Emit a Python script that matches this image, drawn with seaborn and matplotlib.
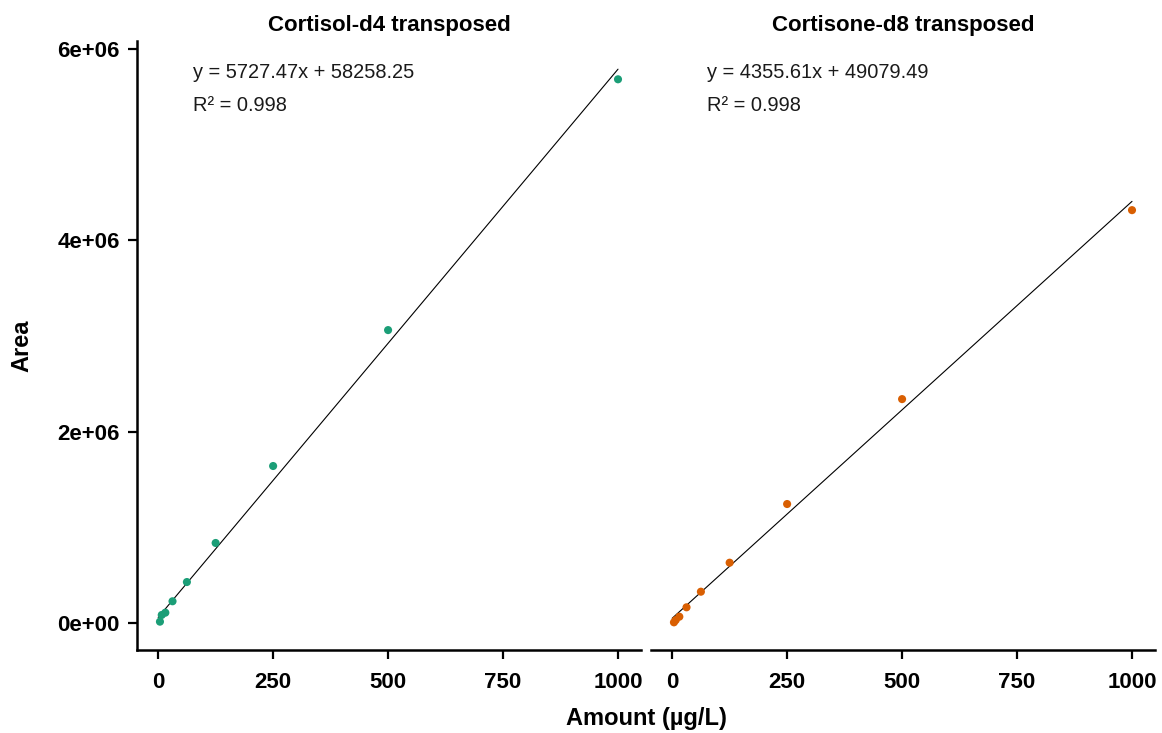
import numpy as np
import pandas as pd
import matplotlib
matplotlib.use("Agg")
import matplotlib.pyplot as plt
import seaborn as sns

# ---- data ----
amount = [3.90625, 7.8125, 15.625, 31.25, 62.5, 125, 250, 500, 1000]
cortisol_area = [14000, 84000, 108000, 227000, 428000, 836000, 1640000, 3060000, 5680000]
cortisone_area = [7000, 31000, 66000, 164000, 327000, 630000, 1243000, 2339000, 4313000]
panel_titles = ["Cortisol-d4 transposed", "Cortisone-d8 transposed"]
slopes = [5727.47, 4355.61]
intercepts = [58258.25, 49079.49]
r2_values = [0.998, 0.998]
colors = ["#1B9E77", "#D95F02"]
x_ticks = [0, 250, 500, 750, 1000]
y_ticks = [0, 2e6, 4e6, 6e6]
y_tick_labels = ["0e+00", "2e+06", "4e+06", "6e+06"]

sns.set_theme(style="ticks")
plt.rcParams["font.family"] = ["Liberation Sans", "DejaVu Sans"]
plt.rcParams["text.color"] = "black"

W, H = 1162, 733
fig = plt.figure(figsize=(W / 100, H / 100), dpi=100)
bottom = 1 - 650 / H
height = (650 - 41) / H
ax1 = fig.add_axes([137 / W, bottom, 504 / W, height])
ax2 = fig.add_axes([651 / W, bottom, 504 / W, height])

areas = [cortisol_area, cortisone_area]
for i, ax in enumerate([ax1, ax2]):
    df = pd.DataFrame({"Amount": amount, "Area": areas[i]})
    line_x = np.array([0.0, max(amount)])
    line_df = pd.DataFrame({"x": line_x, "y": slopes[i] * line_x + intercepts[i]})
    sns.lineplot(data=line_df, x="x", y="y", ax=ax, color="black", linewidth=0.8)
    sns.scatterplot(data=df, x="Amount", y="Area", ax=ax, color=colors[i],
                    s=34, edgecolor="none", zorder=3)
    ax.set_xlim(-46, 1050)
    ax.set_ylim(-2.82e5, 6.08e6)
    ax.set_xticks(x_ticks)
    ax.set_xticklabels([str(t) for t in x_ticks], fontweight="bold", fontsize=16)
    ax.set_xlabel("")
    ax.set_ylabel("")
    ax.set_title(panel_titles[i], fontweight="bold", fontsize=16, pad=7, color="black")
    ax.tick_params(axis="both", length=6.5, width=1.6, color="black",
                   labelcolor="black")
    ax.tick_params(axis="x", pad=9)
    ax.tick_params(axis="y", pad=6)
    for sp in ["top", "right"]:
        ax.spines[sp].set_visible(False)
    for sp in ["left", "bottom"]:
        ax.spines[sp].set_linewidth(1.8)
        ax.spines[sp].set_color("black")
    ax.text(75, 5.75e6, f"y = {slopes[i]:.2f}x + {intercepts[i]:.2f}",
            fontsize=14.4, va="center", ha="left", color="#1a1a1a")
    ax.text(75, 5.41e6, f"R\u00b2 = {r2_values[i]:.3f}",
            fontsize=14.4, va="center", ha="left", color="#1a1a1a")

ax1.set_yticks(y_ticks)
ax1.set_yticklabels(y_tick_labels, fontweight="bold", fontsize=16)
ax2.set_yticks([])
ax2.spines["left"].set_visible(False)

fig.text(22 / W, 1 - 346 / H, "Area", rotation=90, fontweight="bold",
         fontsize=17, ha="center", va="center", color="black")
fig.text(646 / W, 1 - 718 / H, "Amount (\u00b5g/L)", fontweight="bold",
         fontsize=17, ha="center", va="center", color="black")

fig.savefig("out.png", dpi=100, facecolor="white")
